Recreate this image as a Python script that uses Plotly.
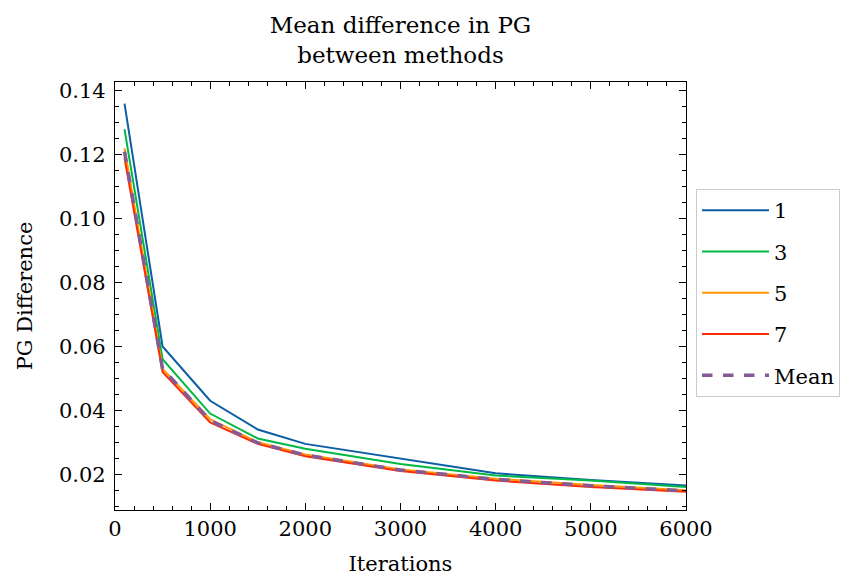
import plotly.graph_objects as go

iterations = [100, 500, 1000, 1500, 2000, 3000, 4000, 5000, 6000]
series_names = ["1", "3", "5", "7"]
vals_1 = [0.136, 0.060, 0.0430, 0.0340, 0.0295, 0.0250, 0.0203, 0.0182, 0.0165]
vals_3 = [0.128, 0.056, 0.0390, 0.0312, 0.0280, 0.0232, 0.0196, 0.0180, 0.0160]
vals_5 = [0.122, 0.053, 0.0372, 0.0300, 0.0262, 0.0215, 0.0186, 0.0166, 0.0150]
vals_7 = [0.119, 0.052, 0.0362, 0.0295, 0.0256, 0.0210, 0.0180, 0.0160, 0.0145]
vals_mean = [0.121, 0.053, 0.0368, 0.0298, 0.0260, 0.0213, 0.0184, 0.0164, 0.0148]
colors = ["#0C5DA5", "#00B945", "#FF9500", "#FF2C00"]
mean_color = "#845B97"

FONT = "DejaVu Serif"

fig = go.Figure()
for name, vals, c in zip(series_names, [vals_1, vals_3, vals_5, vals_7], colors):
    fig.add_trace(go.Scatter(x=iterations, y=vals, mode="lines", name=name, legendgroup=name,
                             line=dict(color=c, width=2)))
fig.add_trace(go.Scatter(x=iterations, y=vals_mean, mode="lines", name="Mean", legendgroup="Mean",
                         line=dict(color=mean_color, width=3.5, dash="dash")))

axis_common = dict(
    showline=True, linecolor="black", linewidth=1.2, mirror="allticks",
    ticks="inside", ticklen=7, tickwidth=1.2, tickcolor="black",
    showgrid=False, zeroline=False, automargin=False,
    tickfont=dict(family=FONT, size=21, color="black"),
)

fig.update_layout(
    width=867, height=577,
    margin=dict(l=115, r=181, t=82, b=67),
    paper_bgcolor="white", plot_bgcolor="white",
    font=dict(family=FONT, color="black"),
    title=dict(text="Mean difference in PG<br>between methods", x=0.4619, xanchor="center",
               y=0.943, yanchor="middle", automargin=False,
               font=dict(family=FONT, size=23, color="black")),
    xaxis=dict(range=[0, 6000], tickvals=[0, 1000, 2000, 3000, 4000, 5000, 6000],
               minor=dict(dtick=200, ticks="inside", ticklen=4, tickcolor="black", tickwidth=1),
               title=dict(text="Iterations", font=dict(family=FONT, size=21), standoff=16),
               **axis_common),
    yaxis=dict(range=[0.0088, 0.1428], tickvals=[0.02, 0.04, 0.06, 0.08, 0.10, 0.12, 0.14],
               tickformat=".2f", ticklabelstandoff=4,
               minor=dict(dtick=0.005, tick0=0, ticks="inside", ticklen=4, tickcolor="black", tickwidth=1),
               title=dict(text="PG Difference", font=dict(family=FONT, size=21), standoff=20),
               **axis_common),
    legend=dict(x=1.0175, xanchor="left", y=0.507, yanchor="middle",
                bgcolor="white", bordercolor="#cccccc", borderwidth=1,
                font=dict(family=FONT, size=21, color="black"),
                tracegroupgap=11, itemwidth=67),
    showlegend=True,
)

fig.write_html("out.html")
